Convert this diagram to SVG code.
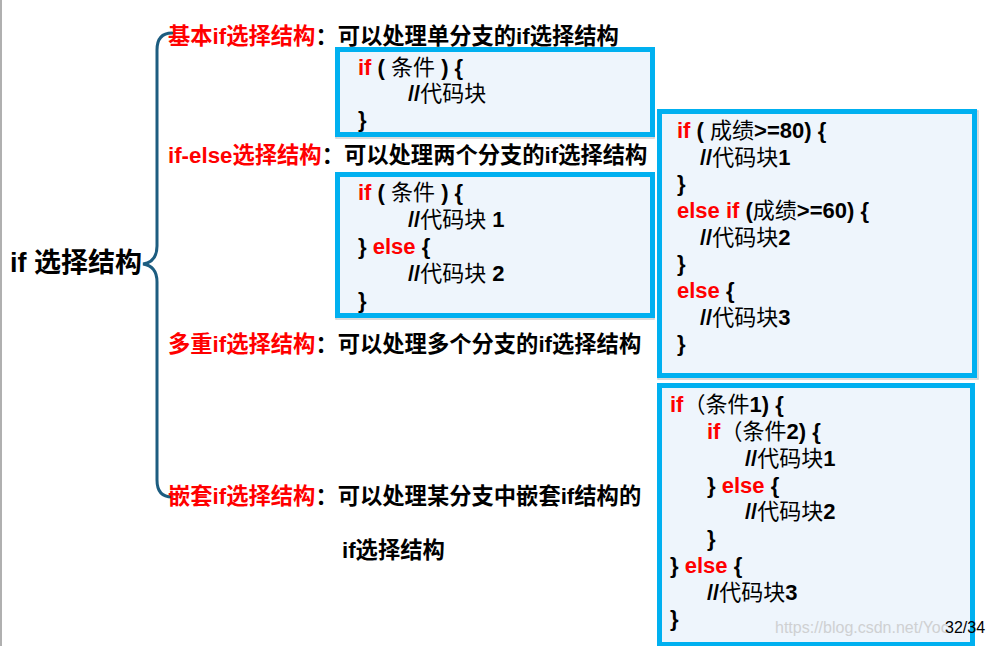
<svg xmlns="http://www.w3.org/2000/svg" width="992" height="646" viewBox="0 0 992 646">
<style>
.t{font-family:"Liberation Sans","Noto Sans CJK SC",sans-serif;font-weight:bold;font-size:22.3px;fill:#000}
.r{fill:#ff0000}
.code{font-family:"Liberation Sans","Noto Sans CJK SC",sans-serif;font-weight:bold;font-size:22px;fill:#000}
.cj{font-weight:normal}
.box{fill:#eef5fc;stroke:#00b0f0;stroke-width:5}
.sh{fill:none;stroke:#d0d0d0;stroke-width:1.5}
.brace{fill:none;stroke:#1d5d80;stroke-width:3;stroke-linecap:round}
</style>
<rect width="992" height="646" fill="#fff"/>
<line x1="1" y1="0" x2="1" y2="646" stroke="#b0b0b0" stroke-width="2"/>

<g id="connectors">
<path class="brace" d="M172,33 Q157,33 157,50 L157,246 Q157,262 143,264 Q157,266 157,282 L157,480 Q157,497 172,497"/>
</g>

<g id="root">
<text class="t" x="10" y="272" style="font-size:27px">if 选择结构</text>
</g>

<g id="basic-if">
<text class="t" x="168" y="44"><tspan class="r">基本if选择结构</tspan>：可以处理单分支的if选择结构</text>
</g>
<g id="if-else">
<text class="t" x="168" y="163"><tspan class="r">if-else选择结构</tspan>：可以处理两个分支的if选择结构</text>
</g>
<g id="multi-if">
<text class="t" x="168" y="352"><tspan class="r">多重if选择结构</tspan>：可以处理多个分支的if选择结构</text>
</g>
<g id="nested-if">
<text class="t" x="168" y="504"><tspan class="r">嵌套if选择结构</tspan>：可以处理某分支中嵌套if结构的</text>
<text class="t" x="342" y="558">if选择结构</text>
</g>

<g id="code-basic">
<rect class="sh" x="336" y="49" width="318" height="89"/>
<rect class="box" x="337.5" y="49.5" width="315" height="85"/>
<text class="code" x="358" y="75"><tspan class="r">if</tspan> ( <tspan class="cj">条件</tspan> ) {</text>
<text class="code" x="408" y="101">//<tspan class="cj">代码块</tspan></text>
<text class="code" x="358" y="127">}</text>
</g>

<g id="code-if-else">
<rect class="sh" x="336" y="174" width="318" height="145"/>
<rect class="box" x="337.5" y="174.5" width="315" height="141"/>
<text class="code" x="358" y="200"><tspan class="r">if</tspan> ( <tspan class="cj">条件</tspan> ) {</text>
<text class="code" x="408" y="227">//<tspan class="cj">代码块</tspan> 1</text>
<text class="code" x="358" y="254">} <tspan class="r">else</tspan> {</text>
<text class="code" x="408" y="281">//<tspan class="cj">代码块</tspan> 2</text>
<text class="code" x="358" y="308">}</text>
</g>

<g id="code-multi">
<rect class="sh" x="658" y="111" width="320" height="268"/>
<rect class="box" x="659.5" y="111.5" width="315" height="264"/>
<text class="code" x="677" y="138"><tspan class="r">if</tspan> ( <tspan class="cj">成绩</tspan>&gt;=80) {</text>
<text class="code" x="700" y="165">//<tspan class="cj">代码块</tspan>1</text>
<text class="code" x="677" y="191">}</text>
<text class="code" x="677" y="218"><tspan class="r">else if</tspan> (<tspan class="cj">成绩</tspan>&gt;=60) {</text>
<text class="code" x="700" y="245">//<tspan class="cj">代码块</tspan>2</text>
<text class="code" x="677" y="271">}</text>
<text class="code" x="677" y="298"><tspan class="r">else</tspan> {</text>
<text class="code" x="700" y="325">//<tspan class="cj">代码块</tspan>3</text>
<text class="code" x="677" y="351">}</text>
</g>

<g id="code-nested">
<rect class="box" x="659.5" y="385.5" width="313" height="259"/>
<text class="code" x="670" y="412"><tspan class="r">if</tspan><tspan class="cj">（条件</tspan>1) {</text>
<text class="code" x="707" y="439"><tspan class="r">if</tspan><tspan class="cj">（条件</tspan>2) {</text>
<text class="code" x="745" y="466">//<tspan class="cj">代码块</tspan>1</text>
<text class="code" x="707" y="493">} <tspan class="r">else</tspan> {</text>
<text class="code" x="745" y="519">//<tspan class="cj">代码块</tspan>2</text>
<text class="code" x="707" y="546">}</text>
<text class="code" x="670" y="573">} <tspan class="r">else</tspan> {</text>
<text class="code" x="707" y="600">//<tspan class="cj">代码块</tspan>3</text>
<text class="code" x="670" y="626">}</text>
</g>

<g id="footer">
<text x="775" y="633" style="font-family:'Liberation Sans',sans-serif;font-size:16px;fill:#c8c8c8;opacity:0.8">https://blog.csdn.net/Yoc</text>
<text x="945" y="633" style="font-family:'Liberation Sans',sans-serif;font-size:16px;fill:#000">32/34</text>
</g>
</svg>
